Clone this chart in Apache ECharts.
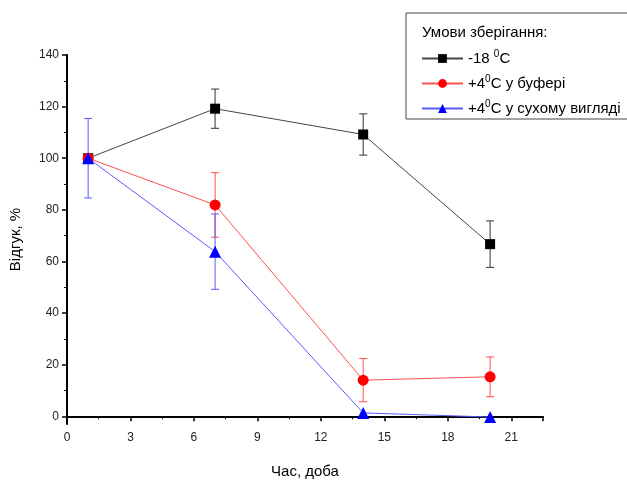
<!DOCTYPE html>
<html>
<head>
<meta charset="utf-8">
<script src="https://cdn.jsdelivr.net/npm/echarts@6/dist/echarts.min.js"></script>
<style>
  html, body { margin: 0; padding: 0; background: #fff; }
  #main { width: 627px; height: 484px; }
</style>
</head>
<body>
<div id="main"></div>
<script>
// days of storage
var days = [1, 7, 14, 20];

// response, % and error (+/-) for every storage condition
var frozen = [100, 119.2, 109.2, 66.7];
var frozenErr = [0, 7.6, 8, 9];
var buffer = [100, 81.9, 14.0, 15.3];
var bufferErr = [0, 12.5, 8.4, 7.7];
var dry = [100, 63.8, 1.3, -0.3];
var dryErr = [15.4, 14.6, 0, 0];

// y ticks (axis starts a little below zero)
var yTicks = [0, 20, 40, 60, 80, 100, 120, 140];
var yMinorTicks = [10, 30, 50, 70, 90, 110, 130];

var seriesNames = ['-18 0C', '+4 0C у буфері', '+4 0C у сухому вигляді'];
var legendRich = {
  '-18 0C': '-18 {sup|0}C',
  '+4 0C у буфері': '+4{sup|0}C у буфері',
  '+4 0C у сухому вигляді': '+4{sup|0}C у сухому вигляді'
};

var chartDom = document.getElementById('main');
var myChart = echarts.init(chartDom);

function pairs(ys) {
  return days.map(function (d, i) { return [d, ys[i]]; });
}
function errData(ys, errs) {
  return days.map(function (d, i) { return [d, ys[i] - errs[i], ys[i] + errs[i]]; });
}

// error bar with caps, drawn through the axis scales
function errorBar(color) {
  return function (params, api) {
    var lo = api.coord([api.value(0), api.value(1)]);
    var hi = api.coord([api.value(0), api.value(2)]);
    if (api.value(2) - api.value(1) <= 0) return;
    var w = 4;
    var st = { stroke: color, lineWidth: 1 };
    return {
      type: 'group',
      children: [
        { type: 'line', shape: { x1: lo[0], y1: lo[1], x2: hi[0], y2: hi[1] }, style: st },
        { type: 'line', shape: { x1: lo[0] - w, y1: lo[1], x2: lo[0] + w, y2: lo[1] }, style: st },
        { type: 'line', shape: { x1: hi[0] - w, y1: hi[1], x2: hi[0] + w, y2: hi[1] }, style: st }
      ]
    };
  };
}

var fontFam = '"Liberation Sans", Arial, sans-serif';

var option = {
  animation: false,
  textStyle: { fontFamily: fontFam },
  grid: { left: 67, right: 84, top: 55, bottom: 57 },
  graphic: [
    {
      type: 'rect',
      shape: { x: 406, y: 13, width: 230, height: 106 },
      style: { fill: '#fff', stroke: '#444', lineWidth: 1 },
      z: 90
    },
    {
      type: 'text',
      x: 422, y: 25,
      style: { text: 'Умови зберігання:', fontSize: 15, fill: '#000', fontFamily: fontFam },
      z: 91
    }
  ],
  legend: {
    orient: 'vertical',
    left: 416,
    top: 44,
    itemWidth: 41,
    itemHeight: 11,
    itemGap: 8,
    z: 95,
    data: seriesNames,
    formatter: function (name) { return legendRich[name]; },
    textStyle: {
      fontSize: 15,
      color: '#000',
      fontFamily: fontFam,
      rich: {
        sup: { fontSize: 10, padding: [0, 0, 9, 0], fontFamily: fontFam }
      }
    }
  },
  xAxis: {
    type: 'value',
    min: 0,
    max: 22.5,
    interval: 3,
    name: 'Час, доба',
    nameLocation: 'middle',
    nameGap: 40,
    nameTextStyle: { fontSize: 15, color: '#000' },
    axisLine: { lineStyle: { color: '#000', width: 2 } },
    axisTick: { length: 5, lineStyle: { width: 1.5 } },
    minorTick: { show: true, splitNumber: 2, length: 3, lineStyle: { color: '#000' } },
    axisLabel: { color: '#222', fontSize: 12, showMaxLabel: false },
    splitLine: { show: false }
  },
  yAxis: [
    {
      type: 'value',
      min: -3,
      max: 140,
      name: 'Відгук, %',
      nameLocation: 'middle',
      nameGap: 44,
      nameTextStyle: { fontSize: 15, color: '#000' },
      axisLine: { lineStyle: { color: '#000', width: 2 } },
      axisTick: { length: 5, lineStyle: { width: 1.5 }, customValues: yTicks },
      axisLabel: { color: '#222', fontSize: 12, customValues: yTicks },
      splitLine: { show: false }
    },
    {
      // minor ticks only
      type: 'value',
      position: 'left',
      min: -3,
      max: 140,
      axisLine: { show: false },
      axisTick: { length: 3, lineStyle: { color: '#000', width: 1 }, customValues: yMinorTicks },
      axisLabel: { show: false },
      splitLine: { show: false }
    }
  ],
  series: [
    {
      type: 'custom', name: 'errFrozen', silent: true,
      renderItem: errorBar('#333'), data: errData(frozen, frozenErr), z: 2
    },
    {
      type: 'custom', name: 'errBuffer', silent: true,
      renderItem: errorBar('#ff5050'), data: errData(buffer, bufferErr), z: 3
    },
    {
      type: 'custom', name: 'errDry', silent: true,
      renderItem: errorBar('#5a5aff'), data: errData(dry, dryErr), z: 4
    },
    {
      name: seriesNames[0], type: 'line', data: pairs(frozen),
      symbol: 'rect', symbolSize: 10,
      itemStyle: { color: '#000' },
      lineStyle: { color: '#444', width: 1 },
      z: 5
    },
    {
      name: seriesNames[1], type: 'line', data: pairs(buffer),
      symbol: 'circle', symbolSize: 11,
      itemStyle: { color: '#ff0000' },
      lineStyle: { color: '#ff5050', width: 1 },
      z: 6
    },
    {
      name: seriesNames[2], type: 'line', data: pairs(dry),
      symbol: 'triangle', symbolSize: 12,
      itemStyle: { color: '#0000ff' },
      lineStyle: { color: '#5a5aff', width: 1 },
      z: 7
    }
  ]
};

option && myChart.setOption(option);
window.onresize = function () {
  myChart.resize();
};
</script>
</body>
</html>
